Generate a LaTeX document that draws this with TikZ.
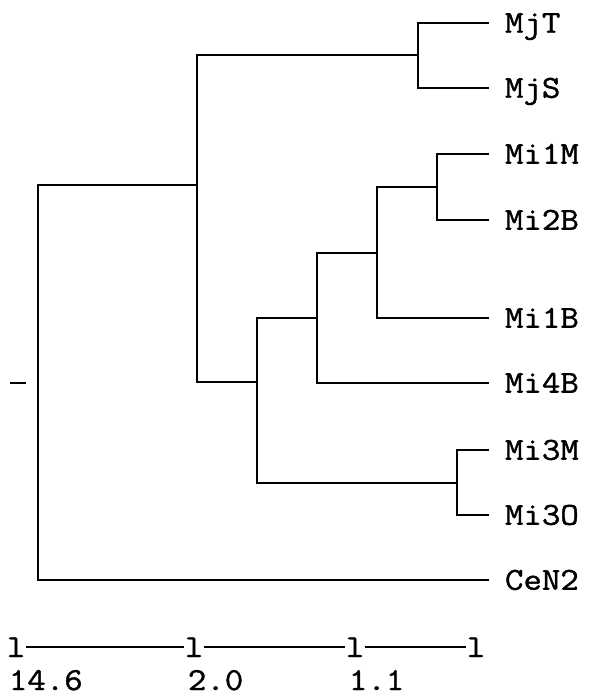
\documentclass[tikz,border=0pt]{standalone}
\usepackage{fontspec}
\newfontfamily\dendfont{Latin Modern Mono}[FakeStretch=1.12,FakeBold=1.2]
\begin{document}
\begin{tikzpicture}[x=1pt,y=-1pt,line width=1.8pt,
  leaflab/.style={font=\dendfont\fontsize{32}{32}\selectfont,anchor=west,inner xsep=17pt,inner ysep=0pt,outer sep=0pt,text height=19.5pt,text depth=0pt},
  ticklab/.style={font=\dendfont\fontsize{32}{32}\selectfont,inner xsep=0.5pt,inner ysep=0pt,outer sep=0pt,text height=20pt,text depth=0pt},
  numlab/.style={font=\dendfont\fontsize{32}{32}\selectfont,anchor=base west,inner sep=0pt},
  branch/.style={draw=black,line cap=rect}]
\useasboundingbox (0,0) rectangle (592,698);
% leaves
\node[leaflab] (MjT) at (488,23) {MjT};
\node[leaflab] (MjS) at (488,88) {MjS};
\node[leaflab] (Mi1M) at (488,154) {Mi1M};
\node[leaflab] (Mi2B) at (488,220) {Mi2B};
\node[leaflab] (Mi1B) at (488,318) {Mi1B};
\node[leaflab] (Mi4B) at (488,383) {Mi4B};
\node[leaflab] (Mi3M) at (488,450) {Mi3M};
\node[leaflab] (Mi3O) at (488,515) {Mi3O};
\node[leaflab] (CeN2) at (488,580) {CeN2};
% internal nodes
\coordinate (a) at (418,55);
\coordinate (b) at (437,187);
\coordinate (c) at (377,253);
\coordinate (d) at (317,318);
\coordinate (e) at (457,483);
\coordinate (f) at (257,382);
\coordinate (g) at (197,185);
\coordinate (root) at (38,383);
\coordinate (rootstub) at (11,383);
\coordinate (rootstubend) at (25,383);
% branches
\draw[branch] (a) |- (MjT.west);
\draw[branch] (a) |- (MjS.west);
\draw[branch] (b) |- (Mi1M.west);
\draw[branch] (b) |- (Mi2B.west);
\draw[branch] (c) |- (b);
\draw[branch] (c) |- (Mi1B.west);
\draw[branch] (d) |- (c);
\draw[branch] (d) |- (Mi4B.west);
\draw[branch] (e) |- (Mi3M.west);
\draw[branch] (e) |- (Mi3O.west);
\draw[branch] (f) |- (d);
\draw[branch] (f) |- (e);
\draw[branch] (g) |- (a);
\draw[branch] (g) |- (f);
\draw[branch] (root) |- (g);
\draw[branch] (root) |- (CeN2.west);
\draw[branch] (rootstub) -- (rootstubend);
% scale bar
\node[ticklab] (t1) at (16,647) {l};
\node[ticklab] (t2) at (194,647) {l};
\node[ticklab] (t3) at (355,647) {l};
\node[ticklab] (t4) at (476,647) {l};
\draw[line width=1.6pt] (t1.east) -- (t2.west);
\draw[line width=1.6pt] (t2.east) -- (t3.west);
\draw[line width=1.6pt] (t3.east) -- (t4.west);
\node[numlab] (n1) at (8,690) {14.6};
\node[numlab] (n2) at (187,690) {2.0};
\node[numlab] (n3) at (348,690) {1.1};
\end{tikzpicture}
\end{document}
